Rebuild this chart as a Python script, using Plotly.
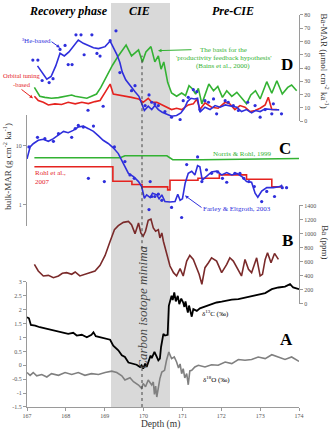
import plotly.graph_objects as go

# ---------------- DATA ----------------
# Panel D : Ba-MAR (umol cm-2 ka-1)
d_green_x = [167.19,167.33,167.46,167.63,167.81,167.98,168.15,168.24,168.36,168.54,168.66,168.79,168.90,169.05,169.20,169.35,169.55,169.69,169.87,169.97,170.06,170.19,170.29,170.38,170.45,170.52,170.62,170.72,170.85,170.98,171.08,171.17,171.26,171.34,171.41,171.50,171.58,171.68,171.80,171.91,172.03,172.14,172.27,172.40,172.53,172.65,172.76,172.88,173.00,173.17,173.30,173.43,173.57,173.71,173.81,173.94]
d_green_y = [25.4,18.7,17.9,17.2,17.7,18.7,19.7,18.7,17.9,17.2,18.7,20.4,25.4,34.1,42.1,49.1,57.3,49.1,53.6,44.6,52.1,56.1,44.6,49.1,39.1,44.6,29.2,21.2,18.7,21.2,19.2,26.7,24.2,20.4,24.7,13.0,20.4,27.9,22.9,26.2,17.9,22.9,18.7,21.7,17.2,13.0,19.7,22.9,16.7,29.7,21.0,30.4,20.4,25.4,27.2,22.9]

d_blue_x = [167.27,167.39,167.51,167.62,167.74,167.85,167.96,168.08,168.22,168.32,168.45,168.58,168.71,168.84,169.01,169.14,169.22,169.31,169.39,169.45,169.54,169.65,169.78,169.88,169.95,170.02,170.12,170.21,170.29,170.38,170.48,170.59,170.72,170.85,170.96,171.05,171.13,171.22,171.31,171.39,171.45,171.58,171.71,171.84,171.97,172.10,172.22,172.40,172.52,172.65,172.78,172.88,173.00,173.13,173.30,173.49]
d_blue_y = [41.6,36.6,31.6,33.6,41.6,51.1,49.1,52.1,57.1,61.1,58.6,57.1,55.3,54.6,56.1,60.3,56.1,50.3,44.1,37.1,31.1,26.7,22.2,18.7,13.0,8.0,11.2,8.7,11.7,8.7,6.7,5.5,3.7,4.2,6.2,9.7,14.7,17.2,16.7,17.2,6.7,10.5,8.7,11.7,10.5,12.2,11.7,10.5,7.2,8.7,6.2,8.0,7.2,9.2,8.7,8.5]

d_dots_x = [167.15,167.28,167.39,167.57,167.67,167.85,167.98,168.06,168.16,168.26,168.39,168.47,168.67,168.80,168.88,169.14,169.29,168.57,168.96,169.39,169.69,169.78,170.04,170.14,170.21,170.29,170.38,170.55,170.72,170.94,171.02,171.15,171.28,171.37,171.45,171.58,171.67,171.80,171.88,172.10,172.18,172.31,172.44,172.68,172.87,173.00,173.13,173.30,173.34,173.55]
d_dots_y = [46,46,30.6,29,32,54,57,42.6,42.6,65,65,50,65,51,49,60.6,68,8.2,11.2,36.6,22.9,26.7,11.7,19.7,14.2,13.0,11.7,7.2,3.0,1.2,15.4,17.9,23.7,22.2,8.7,15.4,14.2,16.7,5.5,15.4,14.2,11.7,8.0,14.2,11.7,3.0,8.7,5.5,13.0,5.5]

d_red_x = [167.19,167.29,167.42,167.55,167.72,167.89,168.06,168.24,168.41,168.58,168.75,168.88,169.01,169.14,169.22,169.35,169.52,169.69,169.87,169.99,170.12,170.21,170.34,170.47,170.59,170.72,170.85,170.98,171.15,171.28,171.37,171.45,171.58,171.75,171.92,172.10,172.22,172.35,172.48,172.61,172.74,172.87,173.00,173.13,173.21,173.30,173.43]
d_red_y = [18.7,15.5,14.2,12.2,13.0,12.5,14.2,13.0,14.2,13.2,14.7,15.5,21.7,27.9,20.4,19.7,19.2,17.9,16.7,14.2,17.2,14.2,14.2,12.2,10.5,8.7,9.7,8.7,12.2,13.0,16.7,8.7,13.7,10.5,9.7,14.2,13.0,8.7,11.7,10.5,7.2,8.0,9.7,12.2,18.0,8.7,8.7]

# Panel C : bulk-MAR (g cm-2 ka-1), log scale
c_blue_x = [167.0,167.08,167.16,167.29,167.42,167.55,167.68,167.81,167.94,168.06,168.19,168.32,168.45,168.58,168.71,168.84,168.96,169.09,169.22,169.35,169.44,169.52,169.61,169.74,169.87,169.95,170.02,170.08,170.17,170.23,170.34,170.40,170.47,170.55,170.68,170.81,170.88,170.94,171.0,171.07,171.15,171.24,171.32,171.39,171.45,171.51,171.62,171.75,171.88,172.01,172.14,172.27,172.40,172.53,172.65,172.78,172.87,172.94,173.04,173.17,173.34,173.51,173.57]
c_blue_y = [6.0,9.6,10.9,12.5,13.0,12.0,13.3,15.6,17.7,16.8,18.4,21.0,21.8,19.7,17.7,14.8,12.5,11.0,9.3,7.4,5.7,4.4,3.4,3.0,2.46,2.02,1.28,1.46,1.31,1.56,1.46,1.25,1.46,1.12,1.10,1.12,1.5,1.18,1.25,2.3,3.4,3.7,3.2,4.6,4.4,2.6,3.0,3.6,3.7,3.2,3.5,3.2,3.4,3.0,2.46,2.4,1.56,1.33,1.7,1.94,1.94,2.02,2.15]

c_dots_x = [167.05,167.27,167.46,167.68,167.81,168.15,168.24,168.32,168.45,168.71,168.58,168.99,169.25,169.52,169.65,169.76,170.17,170.14,170.21,170.29,170.38,170.47,170.72,170.98,171.11,171.39,171.50,171.62,171.75,171.91,172.03,172.14,172.35,172.48,172.58,172.71,172.85,173.04,173.17,173.37,173.57,173.68]
c_dots_y = [9.6,14.0,13.3,12.0,16.2,14.0,19.7,22.4,21.0,21.8,2.8,2.46,9.6,5.4,3.2,2.8,2.46,0.82,1.37,1.37,1.5,1.18,0.89,0.6,4.8,6.5,2.46,3.9,3.4,3.6,2.8,2.4,3.4,3.4,2.8,2.46,2.02,1.12,1.67,1.37,1.94,1.94]

c_green_x = [167.19,169.40,169.52,170.60,170.75,171.50,174.0]
c_green_y = [6.27,6.27,6.8,6.8,5.8,5.8,6.1]

c_red_x = [167.19,169.21,169.70,169.96,170.62,170.68,171.40,171.95,172.65,173.30,173.57]
c_red_y = [4.4,2.5,2.2,2.0,1.78,2.6,2.8,3.2,2.7,2.0,2.0]

# Panel B : Ba (ppm)
b_x = [167.19,167.29,167.42,167.55,167.68,167.81,167.91,168.02,168.15,168.24,168.36,168.49,168.62,168.75,168.88,169.01,169.14,169.25,169.35,169.48,169.61,169.69,169.78,169.87,169.93,169.99,170.05,170.12,170.19,170.25,170.31,170.38,170.42,170.47,170.51,170.55,170.62,170.68,170.77,170.85,170.94,171.02,171.11,171.19,171.28,171.37,171.43,171.50,171.58,171.67,171.75,171.88,172.01,172.14,172.22,172.31,172.44,172.52,172.61,172.70,172.78,172.91,173.00,173.06,173.13,173.19,173.28,173.37,173.47]
b_y = [561,467,396,405,372,396,434,443,420,453,396,420,434,467,547,688,891,1056,1113,1160,1174,1127,999,1150,1009,962,1033,1188,1207,1080,1033,1056,938,1009,891,797,655,537,443,396,500,396,608,688,632,514,420,278,514,585,655,608,443,561,655,608,467,396,632,490,443,655,396,420,632,726,585,717,632]

# Panel A : d13C and d18O (permil)
a_c13_x = [167.0,167.05,167.10,167.21,167.33,167.46,167.63,167.81,167.94,168.06,168.19,168.28,168.41,168.54,168.66,168.71,168.77,168.88,169.01,169.14,169.22,169.35,169.44,169.52,169.61,169.69,169.82,169.91,169.95,169.99,170.04,170.08,170.14,170.18,170.21,170.25,170.28,170.34,170.38,170.42,170.45,170.51,170.55,170.62,170.65,170.72,170.75,170.79,170.83,170.88,170.92,170.97,171.02,171.05,171.08,171.11,171.14,171.17,171.21,171.24,171.28,171.37,171.45,171.58,171.75,171.88,172.01,172.10,172.27,172.44,172.61,172.78,172.95,173.13,173.30,173.47,173.64,173.77,173.85,174.0]
a_c13_y = [1.73,1.69,1.45,1.43,1.37,1.33,1.29,1.21,1.19,1.13,1.17,1.07,1.10,1.01,1.10,1.19,1.05,1.01,0.98,0.92,0.71,0.54,0.36,0.30,0.10,0.06,0.02,-0.06,0.0,-0.12,0.06,-0.06,0.18,0.35,0.26,0.40,0.48,0.30,0.18,0.24,0.66,1.13,1.07,1.10,2.14,2.50,2.35,2.62,2.30,2.50,2.20,2.40,2.26,2.10,2.30,2.08,1.90,2.15,1.85,1.75,2.02,1.96,2.05,2.12,2.20,2.26,2.29,2.32,2.36,2.38,2.44,2.50,2.56,2.60,2.74,2.80,2.83,2.92,2.80,2.74]

a_o18_x = [167.0,167.08,167.16,167.25,167.38,167.51,167.63,167.81,167.98,168.15,168.32,168.49,168.66,168.84,169.01,169.18,169.31,169.44,169.52,169.65,169.74,169.87,169.95,169.99,170.05,170.12,170.21,170.25,170.28,170.31,170.34,170.38,170.42,170.47,170.54,170.59,170.65,170.72,170.79,170.85,170.90,170.94,170.98,171.02,171.06,171.11,171.15,171.19,171.24,171.32,171.41,171.58,171.75,171.92,172.10,172.27,172.44,172.61,172.78,172.95,173.13,173.30,173.47,173.64,173.81,174.0]
a_o18_y = [-0.26,-0.36,-0.26,-0.38,-0.33,-0.42,-0.30,-0.36,-0.26,-0.33,-0.26,-0.36,-0.30,-0.33,-0.26,-0.21,-0.26,-0.38,-0.53,-0.45,-0.59,-0.71,-0.83,-0.65,-0.77,-0.53,-0.71,-0.60,-1.05,-0.75,-1.14,-0.71,-0.48,-0.24,-0.18,0.18,0.48,0.24,0.30,0.12,-0.10,0.05,-0.30,-0.12,-0.45,-0.30,-0.70,-0.20,-0.18,-0.06,0.0,-0.06,0.02,0.0,0.12,0.06,0.21,0.18,0.21,0.30,0.24,0.38,0.30,0.21,0.30,0.14]

depth_ticks = [167, 168, 169, 170, 171, 172, 173, 174]
a_ticks = [-1.5, -1, -0.5, 0, 0.5, 1, 1.5, 2, 2.5, 3]
a_ticktext = ["-1.5", "-1", "-0.5", "0", "0.5", "1", "1.5", "2", "2.5", "3"]
b_ticks = [0, 200, 400, 600, 800, 1000, 1200, 1400]
d_ticks = [0, 10, 20, 30, 40, 50, 60, 70, 80]

# ---------------- STYLE ----------------
BLUE = "#2f2fdc"
RED = "#e5231f"
GREEN = "#33b233"
BROWN = "#7a2a2a"
SERIF = "Liberation Serif, Times New Roman, serif"
AX = "#9a9a9a"
TICKF = dict(family=SERIF, size=6, color="#555")

W, H = 332, 430
L, R, T, B = 27, 33, 0, 23
PW, PH = W - L - R, H - T - B


def px(x):
    return (x - L) / PW


def py(y):
    return (H - B - y) / PH


fig = go.Figure()

# Panel D
fig.add_trace(go.Scatter(x=d_green_x, y=d_green_y, mode="lines", line=dict(color=GREEN, width=1.6), yaxis="y4"))
fig.add_trace(go.Scatter(x=d_red_x, y=d_red_y, mode="lines", line=dict(color=RED, width=1.6), yaxis="y4"))
fig.add_trace(go.Scatter(x=d_blue_x, y=d_blue_y, mode="lines", line=dict(color=BLUE, width=1.6), yaxis="y4"))
fig.add_trace(go.Scatter(x=d_dots_x, y=d_dots_y, mode="markers", marker=dict(color=BLUE, size=3.2), yaxis="y4"))
# Panel C
fig.add_trace(go.Scatter(x=c_green_x, y=c_green_y, mode="lines", line=dict(color=GREEN, width=1.6), yaxis="y3"))
fig.add_trace(go.Scatter(x=c_red_x, y=c_red_y, mode="lines", line=dict(color=RED, width=1.6, shape="hv"), yaxis="y3"))
fig.add_trace(go.Scatter(x=c_blue_x, y=c_blue_y, mode="lines", line=dict(color=BLUE, width=1.6), yaxis="y3"))
fig.add_trace(go.Scatter(x=c_dots_x, y=c_dots_y, mode="markers", marker=dict(color=BLUE, size=3.2), yaxis="y3"))
# Panel B
fig.add_trace(go.Scatter(x=b_x, y=b_y, mode="lines", line=dict(color=BROWN, width=1.6), yaxis="y2"))
# Panel A
fig.add_trace(go.Scatter(x=a_o18_x, y=a_o18_y, mode="lines", line=dict(color="#808080", width=1.6), yaxis="y"))
fig.add_trace(go.Scatter(x=a_c13_x, y=a_c13_y, mode="lines", line=dict(color="#000000", width=1.8), yaxis="y"))

common = dict(showgrid=False, zeroline=False, showline=True, linecolor=AX, linewidth=1,
              ticks="outside", ticklen=3, tickcolor=AX, tickfont=TICKF)

fig.update_layout(
    width=W, height=H,
    margin=dict(l=L, r=R, t=T, b=B, pad=0),
    paper_bgcolor="white", plot_bgcolor="rgba(0,0,0,0)",
    showlegend=False,
    font=dict(family=SERIF),
    xaxis=dict(range=[167, 174], tickvals=depth_ticks, anchor="y", **common),
    yaxis=dict(domain=[0, py(281)], range=[-1.5, 3], tickvals=a_ticks, ticktext=a_ticktext,
               anchor="x", side="left", **common),
    yaxis2=dict(domain=[py(303), py(204)], range=[0, 1400], tickvals=b_ticks,
                anchor="x", side="right", **common),
    yaxis3=dict(domain=[py(225), py(113)], type="log", range=[-0.373, 1.525],
                tickvals=[1, 10], ticktext=["1", "10"], anchor="x", side="left", **common),
    yaxis4=dict(domain=[py(119), py(12)], range=[0, 80], tickvals=d_ticks,
                anchor="x", side="right", **common),
)

shapes = [
    dict(type="rect", xref="paper", yref="paper", x0=px(111), x1=px(170), y0=0, y1=1,
         fillcolor="#d9d9d9", line=dict(width=0), layer="below"),
    dict(type="line", xref="paper", yref="paper", x0=px(142), x1=px(142), y0=py(248), y1=py(53),
         line=dict(color="#444", width=1, dash="dot")),
    dict(type="line", xref="paper", yref="paper", x0=px(142), x1=px(142), y0=0, y1=py(368),
         line=dict(color="#444", width=1, dash="dot")),
]
fig.update_layout(shapes=shapes)


def txt(x, y, text, size=7, color="black", angle=0, bold=False, italic=False, xanchor="center"):
    t = text
    if bold:
        t = "<b>" + t + "</b>"
    if italic:
        t = "<i>" + t + "</i>"
    return dict(x=px(x), y=py(y), xref="paper", yref="paper", text=t, showarrow=False,
                font=dict(family=SERIF, size=size, color=color), textangle=angle,
                xanchor=xanchor, yanchor="middle")


def arrow(hx, hy, tx, ty, color):
    return dict(x=px(hx), y=py(hy), xref="paper", yref="paper", text="", showarrow=True,
                ax=tx - hx, ay=ty - hy, arrowhead=2, arrowsize=0.7, arrowwidth=1, arrowcolor=color)


ann = [
    txt(68, 8, "Recovery phase", size=12, bold=True, italic=True),
    txt(139, 8, "CIE", size=12, bold=True, italic=True),
    txt(233, 8, "Pre-CIE", size=12, bold=True, italic=True),
    txt(287, 62, "D", size=17, bold=True),
    txt(285, 147, "C", size=17, bold=True),
    txt(287, 239, "B", size=17, bold=True),
    txt(286, 339, "A", size=17, bold=True),
    txt(36, 38, "³He-based", size=7, color=BLUE),
    arrow(60, 45, 50, 38, BLUE),
    txt(0.5, 73, "Orbital tuning", size=6.5, color=RED, xanchor="left"),
    txt(22, 82, "-based", size=6.5, color=RED),
    arrow(33, 96, 20, 86, RED),
    txt(223, 47, "The basis for the", size=7, color=GREEN),
    txt(223, 55, "'productivity feedback hypothesis'", size=7, color=GREEN),
    txt(223, 63, "(Bains et al., 2000)", size=7, color=GREEN),
    arrow(158, 48, 193, 47, GREEN),
    txt(242, 152, "Norris &amp; Rohl, 1999", size=7, color=GREEN),
    txt(33, 171, "Rohl et al.,", size=7, color=RED, xanchor="left"),
    txt(33, 180, "2007", size=7, color=RED, xanchor="left"),
    txt(237, 208, "Farley &amp; Eltgroth, 2003", size=7, color=BLUE),
    arrow(185, 194, 203, 207, BLUE),
    txt(215, 313, "δ<sup>13</sup>C (‰)", size=7),
    txt(216, 379, "δ<sup>18</sup>O (‰)", size=7),
    txt(143, 307, "Carbon isotope minima", size=13, color="#444", angle=-90, italic=True),
    txt(325, 58, "Ba-MAR (μmol cm<sup>-2</sup> ka<sup>-1</sup>)", size=9, color="#333", angle=90),
    txt(325, 241, "Ba (ppm)", size=9, color="#333", angle=90),
    txt(7, 165, "bulk-MAR (g cm<sup>-2</sup> ka<sup>-1</sup>)", size=9, color="#333", angle=-90),
    txt(160, 425, "Depth (m)", size=9.5, color="#333"),
]
fig.update_layout(annotations=ann)

fig.write_html("out.html")
